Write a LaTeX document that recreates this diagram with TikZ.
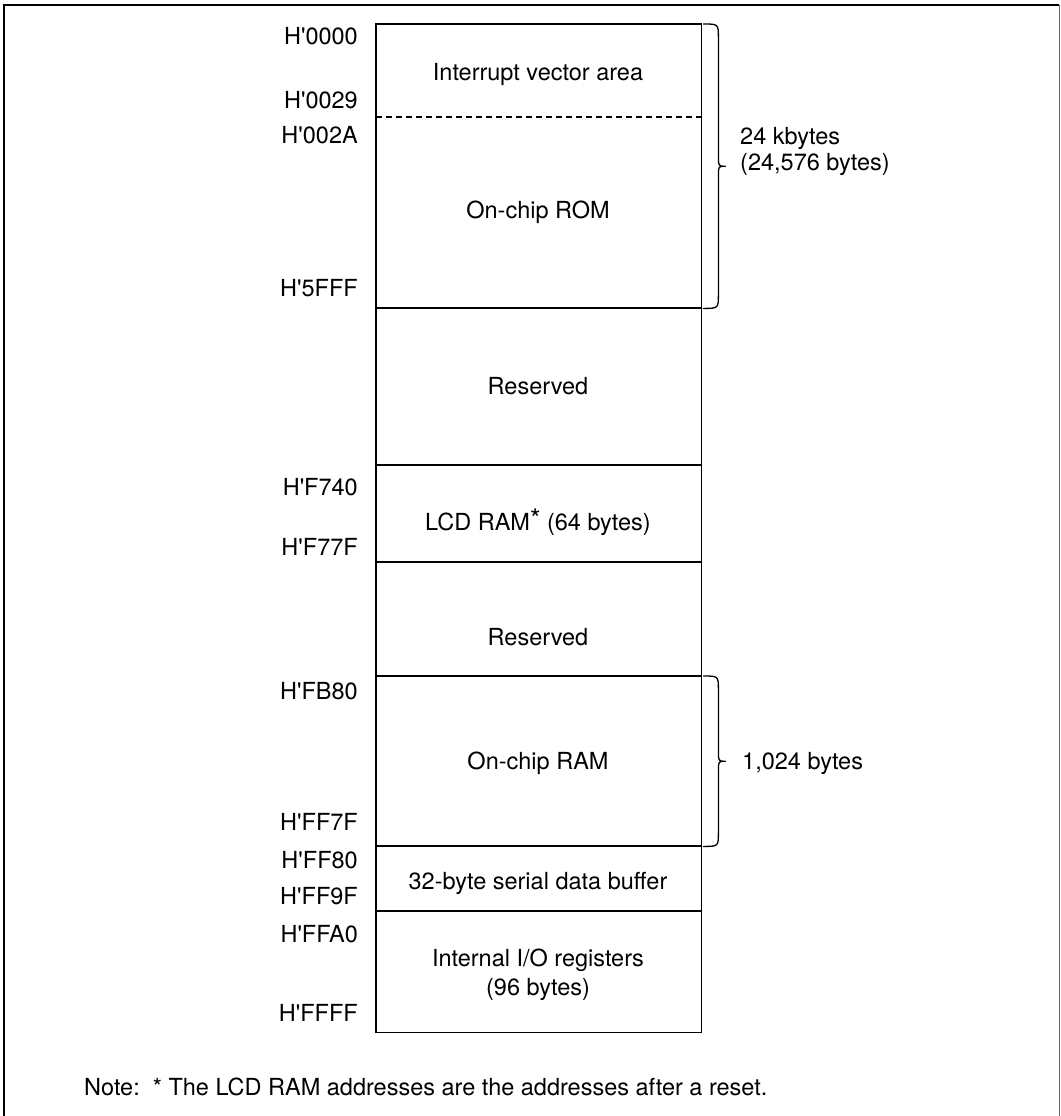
\documentclass[tikz,border=0pt]{standalone}
\usepackage{fontspec}
\newfontfamily\hv{TeX Gyre Heros}
\usetikzlibrary{calc}
\begin{document}
\begin{tikzpicture}[x=1pt,y=-1pt,
  region/.style={rectangle,draw=none,inner sep=0pt,minimum width=325pt,anchor=north west},
  lbl/.style={inner sep=0pt,anchor=base,font=\hv\fontsize{23.5}{29}\selectfont},
  addr/.style={inner sep=0pt,anchor=base east,font=\hv\fontsize{23.5}{29}\selectfont},
  sep/.style={line width=1.6pt},
  bracepath/.style={line width=1.3pt,line cap=round,line join=round}
]
\useasboundingbox (0,0) rectangle (1060,1116);
% outer frame (open at bottom)
\draw[line width=2pt] (4,1116) -- (4,5) -- (1059,5);
\draw[line width=0.8pt,black!60] (1059,5) -- (1059,1116);

% regions
\node[region,minimum height=93pt]  (ivec) at (376,24)  {};
\node[region,minimum height=191pt] (rom)  at (376,117) {};
\node[region,minimum height=157pt] (res1) at (376,308) {};
\node[region,minimum height=97pt]  (lcd)  at (376,465) {};
\node[region,minimum height=114pt] (res2) at (376,562) {};
\node[region,minimum height=170pt] (ram)  at (376,676) {};
\node[region,minimum height=65pt]  (ser)  at (376,846) {};
\node[region,minimum height=121pt] (io)   at (376,911) {};

% outline and separators
\draw[sep] (ivec.north west) rectangle (io.south east);
\draw[line width=1.4pt,dashed,dash pattern=on 6pt off 4pt] (rom.north west) -- (rom.north east);
\draw[sep] (res1.north west) -- (res1.north east);
\draw[sep] (lcd.north west) -- (lcd.north east);
\draw[sep] (res2.north west) -- (res2.north east);
\draw[sep] (ram.north west) -- (ram.north east);
\draw[sep] (ser.north west) -- (ser.north east);
\draw[sep] (io.north west) -- (io.north east);

% region texts
\node[lbl] (tivec) at (538,80.5)  {Interrupt vector area};
\node[lbl] (trom)  at (538,218.5) {On-chip ROM};
\node[lbl] (tres1) at (538,394.5) {Reserved};
\node[lbl] (tlcd)  at (538,530.5) {LCD RAM\raisebox{2pt}{\fontsize{27}{27}\selectfont *}\ (64 bytes)};
\node[lbl] (tres2) at (538,645.5) {Reserved};
\node[lbl] (tram)  at (538,769.5) {On-chip RAM};
\node[lbl] (tser)  at (538,889.5) {32-byte serial data buffer};
\node[lbl] (tio1)  at (538,966.5) {Internal I/O registers};
\node[lbl] (tio2)  at (538,995.5) {(96 bytes)};

% address labels
\node[addr] (a0000) at (358,44.5)   {H'0000};
\node[addr] (a0029) at (358,108.5)  {H'0029};
\node[addr] (a002A) at (358,143.5)  {H'002A};
\node[addr] (a5FFF) at (358,296.5)  {H'5FFF};
\node[addr] (aF740) at (358,495.5)  {H'F740};
\node[addr] (aF77F) at (358,555.5)  {H'F77F};
\node[addr] (aFB80) at (358,699.5)  {H'FB80};
\node[addr] (aFF7F) at (358,830.5)  {H'FF7F};
\node[addr] (aFF80) at (358,868.5)  {H'FF80};
\node[addr] (aFF9F) at (358,904.5)  {H'FF9F};
\node[addr] (aFFA0) at (358,942.5)  {H'FFA0};
\node[addr] (aFFFF) at (358,1021.5) {H'FFFF};

% brace for ROM
\coordinate (b1t) at ($(ivec.north east)+(2,0)$);
\coordinate (b1b) at ($(rom.south east)+(2,0)$);
\draw[bracepath] (b1t) .. controls ($(b1t)+(15,0)$) .. ($(b1t)+(15,14)$)
  -- ($(b1t)!0.5!(b1b)+(15,-10)$) .. controls ($(b1t)!0.5!(b1b)+(15,0)$) .. ($(b1t)!0.5!(b1b)+(22,0)$)
  .. controls ($(b1t)!0.5!(b1b)+(15,0)$) .. ($(b1t)!0.5!(b1b)+(15,10)$)
  -- ($(b1b)+(15,-14)$) .. controls ($(b1b)+(15,0)$) .. (b1b);
\node[inner sep=0pt,anchor=base west,align=left,font=\hv\fontsize{23.5}{26}\selectfont] (k24) at (740,170) {24 kbytes\\(24,576 bytes)};

% brace for RAM
\coordinate (b2t) at ($(ram.north east)+(2,0)$);
\coordinate (b2b) at ($(ram.south east)+(2,0)$);
\draw[bracepath] (b2t) .. controls ($(b2t)+(15,0)$) .. ($(b2t)+(15,14)$)
  -- ($(b2t)!0.5!(b2b)+(15,-10)$) .. controls ($(b2t)!0.5!(b2b)+(15,0)$) .. ($(b2t)!0.5!(b2b)+(22,0)$)
  .. controls ($(b2t)!0.5!(b2b)+(15,0)$) .. ($(b2t)!0.5!(b2b)+(15,10)$)
  -- ($(b2b)+(15,-14)$) .. controls ($(b2b)+(15,0)$) .. (b2b);
\node[inner sep=0pt,anchor=base west,font=\hv\fontsize{23.5}{29}\selectfont] (k1) at (742,769.5) {1,024 bytes};

% note
\node[inner sep=0pt,anchor=base west,font=\hv\fontsize{23.5}{29}\selectfont] (note) at (84,1095.5) {Note:\ \ * The LCD RAM addresses are the addresses after a reset.};
\end{tikzpicture}
\end{document}
